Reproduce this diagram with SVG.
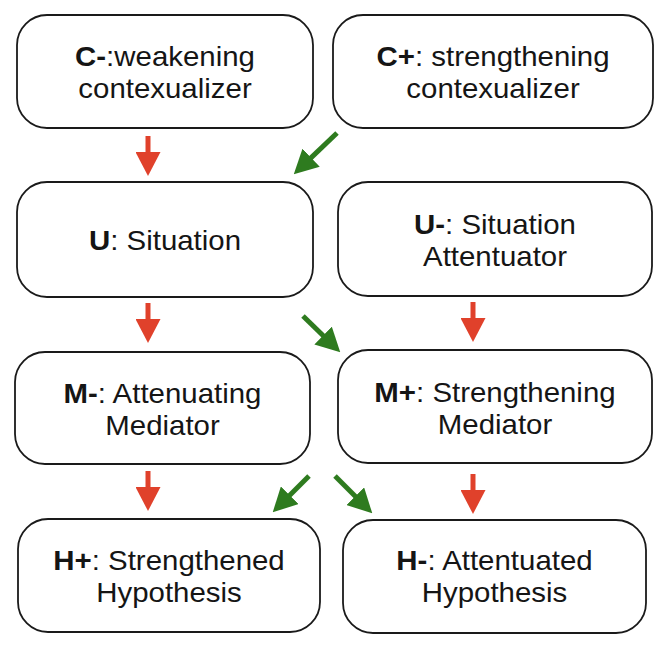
<svg xmlns="http://www.w3.org/2000/svg" width="664" height="652" viewBox="0 0 664 652">
<style>
.box{fill:#fff;stroke:#1a1a1a;stroke-width:1.8}
.t{font-family:"Liberation Sans",Arial,Helvetica,sans-serif;font-size:27px;fill:#151515;text-anchor:middle}
.b{font-weight:bold}
.red{stroke:#e0412b;stroke-width:5;fill:none}
.green{stroke:#2e7b1f;stroke-width:5;fill:none}
</style>
<defs>
<marker id="hr" markerUnits="userSpaceOnUse" viewBox="0 0 24 25" markerWidth="24" markerHeight="25" refX="1" refY="12.5" orient="auto">
<path d="M0,0 L24,12.5 L0,25 Z" fill="#e0412b"/>
</marker>
<marker id="hg" markerUnits="userSpaceOnUse" viewBox="0 0 24 25" markerWidth="24" markerHeight="25" refX="1" refY="12.5" orient="auto">
<path d="M0,0 L24,12.5 L0,25 Z" fill="#2e7b1f"/>
</marker>
</defs>
<rect width="664" height="652" fill="#fff"/>
<g id="connectors">
<line class="red" x1="148" y1="136" x2="148" y2="153" marker-end="url(#hr)"/>
<line class="green" x1="337" y1="133" x2="310.4" y2="158.4" marker-end="url(#hg)"/>
<line class="red" x1="148" y1="303" x2="148" y2="320" marker-end="url(#hr)"/>
<line class="green" x1="303" y1="316" x2="323.8" y2="336.3" marker-end="url(#hg)"/>
<line class="red" x1="473" y1="302" x2="473" y2="319" marker-end="url(#hr)"/>
<line class="red" x1="148" y1="471" x2="148" y2="488" marker-end="url(#hr)"/>
<line class="green" x1="309" y1="476" x2="289" y2="496" marker-end="url(#hg)"/>
<line class="green" x1="335" y1="476" x2="356" y2="497" marker-end="url(#hg)"/>
<line class="red" x1="473" y1="474" x2="473" y2="491" marker-end="url(#hr)"/>
</g>
<g id="c-minus">
<rect class="box" x="17" y="15" width="296" height="113" rx="30"/>
<g transform="translate(165,0) scale(1.09,1)">
<text class="t" x="0" y="66"><tspan class="b">C-</tspan>:weakening</text>
<text class="t" x="0" y="98">contexualizer</text>
</g>
</g>
<g id="c-plus">
<rect class="box" x="333" y="15" width="320" height="113" rx="30"/>
<g transform="translate(493,0) scale(1.09,1)">
<text class="t" x="0" y="66"><tspan class="b">C+</tspan>: strengthening</text>
<text class="t" x="0" y="98">contexualizer</text>
</g>
</g>
<g id="u">
<rect class="box" x="17" y="182" width="296" height="115" rx="30"/>
<g transform="translate(165,0) scale(1.09,1)">
<text class="t" x="0" y="250"><tspan class="b">U</tspan>: Situation</text>
</g>
</g>
<g id="u-minus">
<rect class="box" x="338" y="182" width="314" height="114" rx="30"/>
<g transform="translate(495,0) scale(1.09,1)">
<text class="t" x="0" y="234"><tspan class="b">U-</tspan>: Situation</text>
<text class="t" x="0" y="266">Attentuator</text>
</g>
</g>
<g id="m-minus">
<rect class="box" x="15" y="352" width="295" height="112" rx="30"/>
<g transform="translate(162.5,0) scale(1.09,1)">
<text class="t" x="0" y="403"><tspan class="b">M-</tspan>: Attenuating</text>
<text class="t" x="0" y="435">Mediator</text>
</g>
</g>
<g id="m-plus">
<rect class="box" x="338" y="350" width="314" height="113" rx="30"/>
<g transform="translate(495,0) scale(1.09,1)">
<text class="t" x="0" y="402"><tspan class="b">M+</tspan>: Strengthening</text>
<text class="t" x="0" y="434">Mediator</text>
</g>
</g>
<g id="h-plus">
<rect class="box" x="18" y="519" width="302" height="113" rx="30"/>
<g transform="translate(169,0) scale(1.09,1)">
<text class="t" x="0" y="570"><tspan class="b">H+</tspan>: Strengthened</text>
<text class="t" x="0" y="602">Hypothesis</text>
</g>
</g>
<g id="h-minus">
<rect class="box" x="343" y="520" width="303" height="113" rx="30"/>
<g transform="translate(494.5,0) scale(1.09,1)">
<text class="t" x="0" y="570.5"><tspan class="b">H-</tspan>: Attentuated</text>
<text class="t" x="0" y="602.5">Hypothesis</text>
</g>
</g>
</svg>
